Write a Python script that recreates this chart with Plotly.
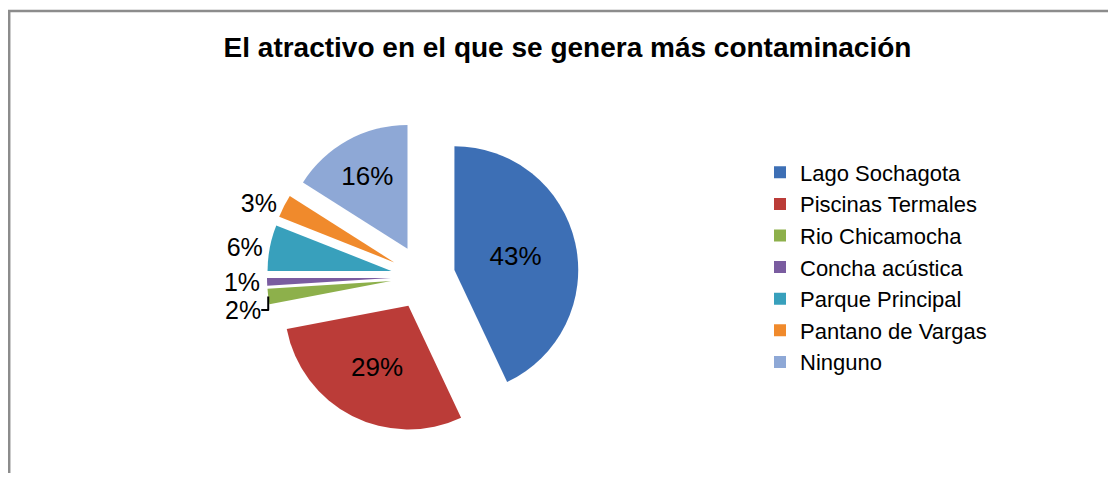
import plotly.graph_objects as go

labels = ["Lago Sochagota", "Piscinas Termales", "Rio Chicamocha", "Concha acústica",
          "Parque Principal", "Pantano de Vargas", "Ninguno"]
values = [43, 29, 2, 1, 6, 3, 16]
colors = ["#3D6FB5", "#BB3C38", "#8DB04B", "#7A5CA0", "#38A0BC", "#F08A2C", "#8EA8D6"]
text_pos = ["inside", "inside", "outside", "outside", "outside", "outside", "inside"]

W, H = 1108, 465
OFF = 8  # page body margin


def fx(sx):
    return (sx - OFF) / W


def fy(sy):
    return 1 - (sy - OFF) / H


cx, cy, half = 423, 277, 156
FONT = "Liberation Sans, Arial, sans-serif"

fig = go.Figure(go.Pie(
    labels=labels,
    values=values,
    sort=False,
    direction="clockwise",
    rotation=0,
    pull=[0.26] * len(values),
    marker=dict(colors=colors, line=dict(color="white", width=0)),
    texttemplate="%{percent:.0%}",
    textposition=text_pos,
    insidetextfont=dict(color="black", size=26, family=FONT),
    outsidetextfont=dict(color="black", size=25, family=FONT),
    domain=dict(x=[fx(cx - half), fx(cx + half)], y=[fy(cy + half), fy(cy - half)]),
    hoverinfo="label+percent",
))

fig.update_layout(
    width=W, height=H,
    margin=dict(l=0, r=0, t=0, b=0, pad=0, autoexpand=False),
    paper_bgcolor="white",
    plot_bgcolor="white",
    title=dict(
        text="<b>El atractivo en el que se genera más contaminación</b>",
        x=fx(567.5), xanchor="center",
        y=fy(47), yanchor="middle",
        font=dict(family=FONT, size=28, color="black"),
    ),
    legend=dict(
        x=fx(760), xanchor="left",
        y=fy(267.5), yanchor="middle",
        font=dict(family=FONT, size=22, color="black"),
        itemwidth=30,
        tracegroupgap=0,
        bgcolor="rgba(0,0,0,0)",
    ),
    shapes=[dict(
        type="rect", xref="paper", yref="paper",
        x0=1.2 / W, x1=1.05, y0=-0.05, y1=1 - 3 / H,
        line=dict(color="#8C8C8C", width=2.5),
        fillcolor="rgba(0,0,0,0)", layer="below",
    )],
)

fig.write_html("out.html")
